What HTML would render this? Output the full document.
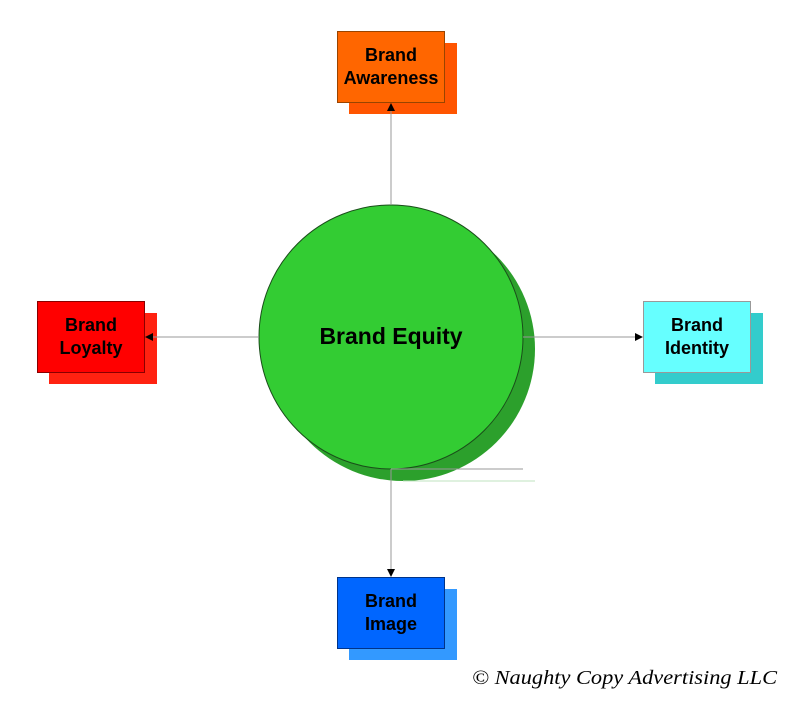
<!DOCTYPE html>
<html><head><meta charset="utf-8"><style>
html,body{margin:0;padding:0;background:#fff;}
svg{display:block;}
.b{font-family:"Liberation Sans",Arial,sans-serif;font-weight:bold;fill:#000;}
.sig{font-family:"Liberation Serif",serif;font-style:italic;font-weight:normal;fill:#000;}
</style></head><body>
<svg width="804" height="711" viewBox="0 0 804 711" xmlns="http://www.w3.org/2000/svg">
<defs>
<marker id="ar" markerWidth="8" markerHeight="8" refX="7" refY="4" orient="auto" markerUnits="userSpaceOnUse">
<path d="M0,0 L8,4 L0,8 z" fill="#000"/>
</marker>
</defs>
<!-- circle -->
<circle cx="403" cy="349" r="132" fill="#2ca02c"/>
<circle cx="391" cy="337" r="132" fill="#33cc33" stroke="#1a4d1a" stroke-width="1"/>
<line x1="391" y1="469" x2="523" y2="469" stroke="#999" stroke-width="1"/>
<line x1="403" y1="481" x2="535" y2="481" stroke="#bfe3bf" stroke-width="1"/>
<text class="b" x="391" y="344" font-size="23" text-anchor="middle">Brand Equity</text>
<!-- Awareness -->
<rect x="349" y="43" width="108" height="71" fill="#ff5500"/>
<rect x="337.5" y="31.5" width="107" height="71" fill="#ff6600" stroke="#994400"/>
<text class="b" x="391" y="61" font-size="18" text-anchor="middle">Brand</text>
<text class="b" x="391" y="84" font-size="18" text-anchor="middle">Awareness</text>
<!-- Loyalty -->
<rect x="49" y="313" width="108" height="71" fill="#ff2211"/>
<rect x="37.5" y="301.5" width="107" height="71" fill="#ff0000" stroke="#880000"/>
<text class="b" x="91" y="331" font-size="18" text-anchor="middle">Brand</text>
<text class="b" x="91" y="354" font-size="18" text-anchor="middle">Loyalty</text>
<!-- Identity -->
<rect x="655" y="313" width="108" height="71" fill="#33cccc"/>
<rect x="643.5" y="301.5" width="107" height="71" fill="#66ffff" stroke="#999"/>
<text class="b" x="697" y="331" font-size="18" text-anchor="middle">Brand</text>
<text class="b" x="697" y="354" font-size="18" text-anchor="middle">Identity</text>
<!-- Image -->
<rect x="349" y="589" width="108" height="71" fill="#3399ff"/>
<rect x="337.5" y="577.5" width="107" height="71" fill="#0066ff" stroke="#003388"/>
<text class="b" x="391" y="607" font-size="18" text-anchor="middle">Brand</text>
<text class="b" x="391" y="630" font-size="18" text-anchor="middle">Image</text>
<!-- connectors -->
<line x1="391" y1="204" x2="391" y2="104" stroke="#999" stroke-width="1" marker-end="url(#ar)"/>
<line x1="259" y1="337" x2="146" y2="337" stroke="#999" stroke-width="1" marker-end="url(#ar)"/>
<line x1="523" y1="337" x2="642" y2="337" stroke="#999" stroke-width="1" marker-end="url(#ar)"/>
<line x1="391" y1="469" x2="391" y2="576" stroke="#999" stroke-width="1" marker-end="url(#ar)"/>
<text class="sig" x="472" y="684" font-size="20" textLength="305" lengthAdjust="spacingAndGlyphs">© Naughty Copy Advertising LLC</text>
</svg>
</body></html>
